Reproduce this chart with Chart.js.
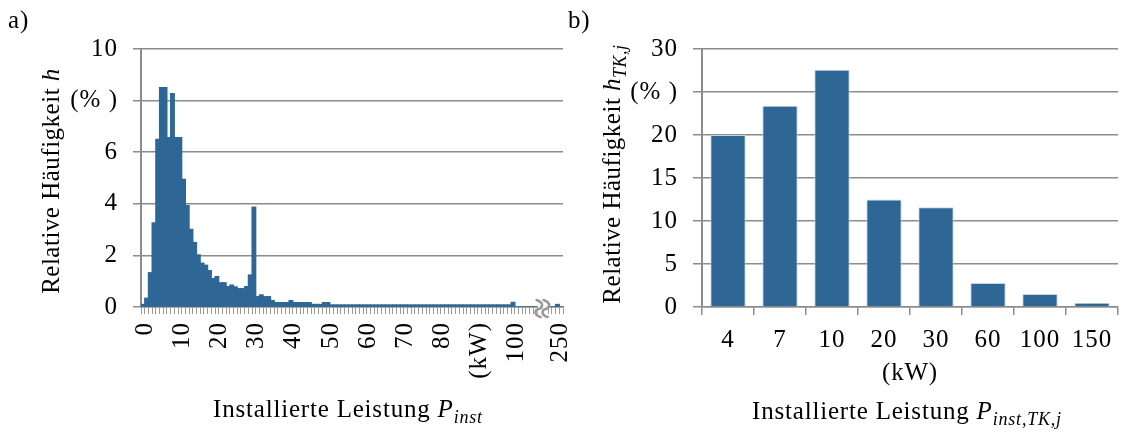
<!DOCTYPE html>
<html>
<head>
<meta charset="utf-8">
<script src="https://cdn.jsdelivr.net/npm/chart.js@4.4.1/dist/chart.umd.min.js"></script>
<style>
  body { margin: 0; background: #fff; }
  #wrap { position: relative; width: 1121px; height: 432px; overflow: hidden; font-family: 'Liberation Serif', serif; color: #000; }
  canvas { position: absolute; top: 0; }
  .txt { position: absolute; font-size: 25px; white-space: nowrap; line-height: 1; letter-spacing: 0.8px; }
  .rot { transform: translate(-50%, -50%) rotate(-90deg); letter-spacing: 0.5px; }
  .ctr { transform: translate(-50%, -50%); }
  sub { font-size: 0.72em; vertical-align: -0.3em; }
</style>
</head>
<body>
<div id="wrap">
  <canvas id="chartA" width="575" height="432" style="left:0;width:575px;height:432px"></canvas>
  <canvas id="chartB" width="561" height="432" style="left:560px;width:561px;height:432px"></canvas>

  <div class="txt" style="left:8px;top:7px">a)</div>
  <div class="txt" style="left:568px;top:7px">b)</div>
  <div class="txt rot" style="left:50px;top:181px">Relative Häufigkeit <i>h</i></div>
  <div class="txt rot" style="left:614px;top:174px">Relative Häufigkeit <i>h</i><sub><i>TK,j</i></sub></div>
  <div class="txt ctr" style="left:348px;top:411px">Installierte Leistung <i>P</i><sub><i>inst</i></sub></div>
  <div class="txt ctr" style="left:907px;top:413px">Installierte Leistung <i>P</i><sub><i>inst,TK,j</i></sub></div>
  <div class="txt ctr" style="left:910px;top:371px">(kW)</div>
</div>

<script>
// a) Histogramm, Klassen zu 1 kW, dann Achsenbruch bis 250 kW
var klassenA = [
  '0','1','2','3','4','5','6','7','8','9',
  '10','11','12','13','14','15','16','17','18','19',
  '20','21','22','23','24','25','26','27','28','29',
  '30','31','32','33','34','35','36','37','38','39',
  '40','41','42','43','44','45','46','47','48','49',
  '50','51','52','53','54','55','56','57','58','59',
  '60','61','62','63','64','65','66','67','68','69',
  '70','71','72','73','74','75','76','77','78','79',
  '80','81','82','83','84','85','86','87','88','89',
  '90','91','92','93','94','95','96','97','98','99',
  '100','101','102','103','104','105','106',
  'bruch1','bruch2','bruch3',
  '248','249','250','251'
];
var haeufigkeitA = [
  0.10, 0.34, 1.33, 3.26, 6.50, 8.50, 8.50, 6.57, 8.27, 6.57,
  6.57, 4.95, 3.93, 3.01, 2.50, 2.02, 1.70, 1.62, 1.41, 1.10,
  1.18, 0.94, 0.94, 0.79, 0.85, 0.78, 0.71, 0.71, 0.79, 1.24,
  3.87, 0.40, 0.47, 0.40, 0.40, 0.25, 0.17, 0.17, 0.17, 0.17,
  0.25, 0.17, 0.17, 0.17, 0.17, 0.17, 0.10, 0.10, 0.10, 0.17,
  0.17, 0.08, 0.08, 0.08, 0.08, 0.08, 0.08, 0.08, 0.08, 0.08,
  0.08, 0.08, 0.08, 0.08, 0.08, 0.08, 0.08, 0.08, 0.08, 0.08,
  0.08, 0.08, 0.08, 0.08, 0.08, 0.08, 0.08, 0.08, 0.08, 0.08,
  0.08, 0.08, 0.08, 0.08, 0.08, 0.08, 0.08, 0.08, 0.08, 0.08,
  0.08, 0.08, 0.08, 0.08, 0.08, 0.08, 0.08, 0.08, 0.08, 0.08,
  0.18, 0, 0, 0, 0, 0, 0,
  0, 0, 0,
  0, 0, 0.10, 0
];
// welche Klassen beschriftet werden (90 wird durch die Einheit ersetzt)
var beschriftungA = {
  '0': '0', '10': '10', '20': '20', '30': '30', '40': '40', '50': '50',
  '60': '60', '70': '70', '80': '80', '90': '(kW)', '100': '100', '250': '250'
};
var bruchKlassen = ['bruch1', 'bruch2', 'bruch3'];

// b) Typklassen
var klassenB = ['4', '7', '10', '20', '30', '60', '100', '150'];
var haeufigkeitB = [20.0, 23.4, 27.6, 12.5, 11.6, 2.8, 1.5, 0.5];

var blau = '#2e6795';
var grau = '#8c8c8c';
var schrift = { family: 'Liberation Serif', size: 25 };

// etwas breitere Schrift wie im Original
var sperrung = {
    id: 'sperrung',
    beforeDraw: function (chart) { chart.ctx.letterSpacing = '1px'; }
};

// Achsenbruch-Zeichen
var achsenBruch = {
    id: 'achsenBruch',
    afterDraw: function (chart) {
        var x = chart.scales.x;
        var ctx = chart.ctx;
        var x0 = x.getPixelForValue(klassenA.indexOf(bruchKlassen[0]));
        var x1 = x.getPixelForValue(klassenA.indexOf(bruchKlassen[2]));
        var y = chart.chartArea.bottom;
        var m = (x0 + x1) / 2;
        ctx.save();
        ctx.fillStyle = '#fff';
        ctx.fillRect(m - 5, y - 7, 10, 18);
        ctx.strokeStyle = '#999';
        ctx.lineWidth = 2.5;
        ctx.lineCap = 'round';
        [m - 4, m + 3].forEach(function (cx) {
            ctx.beginPath();
            ctx.moveTo(cx - 2, y - 7);
            ctx.bezierCurveTo(cx + 6, y - 4, cx + 4, y + 1, cx, y + 2);
            ctx.bezierCurveTo(cx - 4, y + 3, cx - 5, y + 8, cx + 2, y + 10);
            ctx.stroke();
        });
        ctx.restore();
    }
};

new Chart(document.getElementById('chartA'), {
    type: 'bar',
    data: {
        labels: klassenA,
        datasets: [{
            data: haeufigkeitA,
            backgroundColor: blau,
            borderWidth: 0,
            inflateAmount: 0.6,
            barPercentage: 1,
            categoryPercentage: 1
        }]
    },
    options: {
        responsive: false,
        animation: false,
        events: [],
        layout: { padding: { left: 0, right: 12, top: 49, bottom: 0 } },
        plugins: { legend: { display: false }, tooltip: { enabled: false } },
        scales: {
            x: {
                afterFit: function (s) { s.height = 125; s.paddingLeft = 0; s.paddingRight = 0; },
                grid: { drawOnChartArea: false, drawTicks: true, tickLength: 7, color: '#9a9a9a', lineWidth: 1 },
                border: { color: grau, width: 1.5 },
                ticks: {
                    autoSkip: false,
                    maxRotation: 90,
                    minRotation: 90,
                    padding: 8,
                    labelOffset: 3,
                    color: '#000',
                    font: schrift,
                    callback: function (v) {
                        var k = klassenA[v];
                        return beschriftungA[k] !== undefined ? beschriftungA[k] : '';
                    }
                }
            },
            y: {
                min: 0,
                max: 10,
                afterFit: function (s) { s.width = 141; },
                grid: { color: grau, lineWidth: 1.5, tickLength: 8 },
                border: { color: grau, width: 2 },
                ticks: {
                    stepSize: 2,
                    padding: 15,
                    color: '#000',
                    font: schrift,
                    callback: function (v) { return v === 8 ? '(% )' : v; }
                }
            }
        }
    },
    plugins: [sperrung, achsenBruch]
});

new Chart(document.getElementById('chartB'), {
    type: 'bar',
    data: {
        labels: klassenB,
        datasets: [{
            data: haeufigkeitB,
            backgroundColor: blau,
            borderColor: '#c8d6e4',
            borderWidth: 1,
            barPercentage: 0.68,
            categoryPercentage: 1
        }]
    },
    options: {
        responsive: false,
        animation: false,
        events: [],
        layout: { padding: { left: 0, right: 3, top: 49, bottom: 0 } },
        plugins: { legend: { display: false }, tooltip: { enabled: false } },
        scales: {
            x: {
                afterFit: function (s) { s.height = 125; },
                grid: { drawOnChartArea: false, drawTicks: true, tickLength: 8, color: grau, lineWidth: 1.5 },
                border: { color: grau, width: 1.5 },
                ticks: {
                    maxRotation: 0,
                    padding: 10,
                    color: '#000',
                    font: schrift
                }
            },
            y: {
                min: 0,
                max: 30,
                afterFit: function (s) { s.width = 142; },
                grid: { color: grau, lineWidth: 1.5, tickLength: 9 },
                border: { color: grau, width: 2 },
                ticks: {
                    stepSize: 5,
                    padding: 15,
                    color: '#000',
                    font: schrift,
                    callback: function (v) { return v === 25 ? '(% )' : v; }
                }
            }
        }
    },
    plugins: [sperrung]
});
</script>
</body>
</html>
